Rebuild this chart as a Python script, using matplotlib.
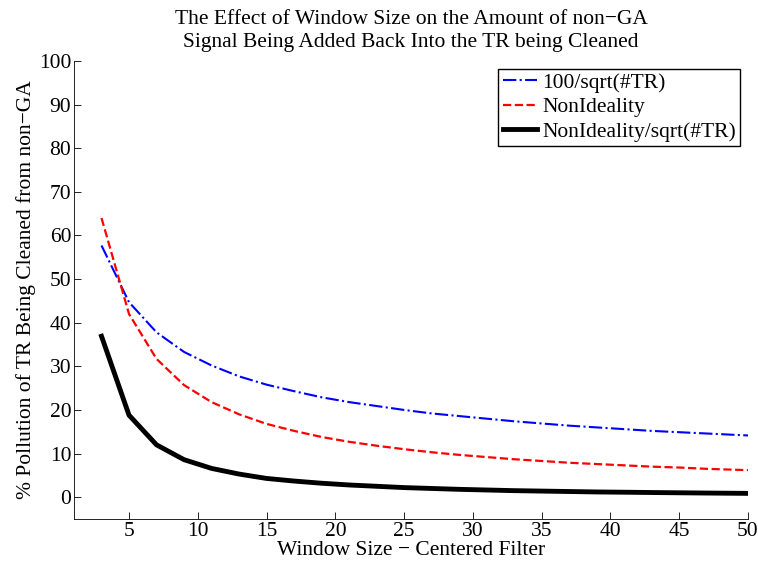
import matplotlib
matplotlib.use("Agg")
import matplotlib.pyplot as plt

# window sizes (odd, centered filter)
window = [3, 5, 7, 9, 11, 13, 15, 17, 19, 21, 23, 25, 27, 29, 31, 33, 35, 37, 39, 41, 43, 45, 47, 49, 51]

# values
inv_sqrt = [57.7, 44.7, 37.8, 33.3, 30.2, 27.7, 25.8, 24.3, 22.9, 21.8, 20.9, 20.0, 19.2,
            18.6, 18.0, 17.4, 16.9, 16.4, 16.0, 15.6, 15.2, 14.9, 14.6, 14.3, 14.0]
nonideal = [64.0, 42.0, 31.7, 25.7, 21.8, 19.0, 16.8, 15.2, 13.8, 12.7, 11.8, 11.0, 10.3,
            9.7, 9.2, 8.7, 8.3, 7.9, 7.6, 7.3, 7.0, 6.8, 6.5, 6.3, 6.1]
nonideal_sqrt = [36.9, 18.8, 12.0, 8.6, 6.6, 5.3, 4.3, 3.7, 3.2, 2.8, 2.5, 2.2, 2.0,
                 1.8, 1.65, 1.5, 1.4, 1.3, 1.2, 1.14, 1.07, 1.01, 0.95, 0.9, 0.85]

xticks = [5, 10, 15, 20, 25, 30, 35, 40, 45, 50]
yticks = [0, 10, 20, 30, 40, 50, 60, 70, 80, 90, 100]

plt.rcParams['font.family'] = ['Liberation Serif', 'DejaVu Serif']
fs = 15.5

fig = plt.figure(figsize=(7.58, 5.69), dpi=100)
ax = fig.add_axes([74/758, 1 - 519/569, (748-74)/758, (519-61)/569])

ax.plot(window, inv_sqrt, color='blue', linestyle='-.', lw=1.5, label='100/sqrt(#TR)')
ax.plot(window, nonideal, color='red', linestyle='--', lw=1.6, label='NonIdeality')
ax.plot(window, nonideal_sqrt, color='black', linestyle='-', lw=3.5, label='NonIdeality/sqrt(#TR)')

ax.set_xlim(1, 50)
ax.set_ylim(-5, 100)
ax.set_xticks(xticks)
ax.set_yticks(yticks)
ax.tick_params(direction='in', length=5, width=0.6, labelsize=fs, pad=2)
ax.spines['top'].set_visible(False)
ax.spines['right'].set_visible(False)
ax.spines['left'].set_linewidth(0.6)
ax.spines['bottom'].set_linewidth(0.6)

ax.set_title('The Effect of Window Size on the Amount of non\u2212GA\nSignal Being Added Back Into the TR being Cleaned',
             fontsize=fs, linespacing=1.3, pad=10)
ax.set_xlabel('Window Size \u2212 Centered Filter', fontsize=fs, labelpad=0)
ax.set_ylabel('% Pollution of TR Being Cleaned from non\u2212GA', fontsize=fs, labelpad=2)

leg = ax.legend(loc='upper right', fancybox=False, edgecolor='black', framealpha=1,
                fontsize=fs, handlelength=1.6, handletextpad=0.25, borderpad=0.2,
                labelspacing=0.2, borderaxespad=0.35)
leg.get_frame().set_linewidth(1.0)

fig.savefig('out.png', dpi=100)
